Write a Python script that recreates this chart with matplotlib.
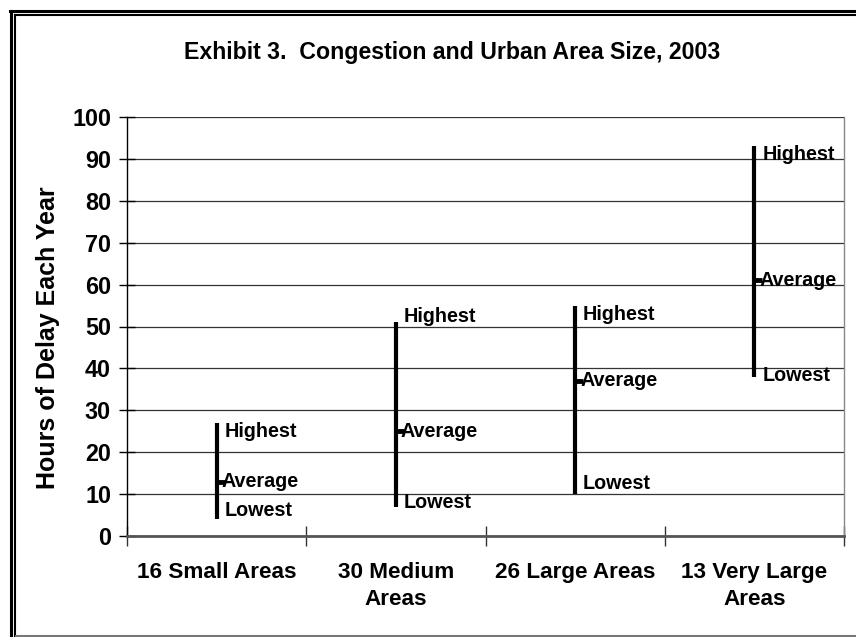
import matplotlib.pyplot as plt

categories = ['16 Small Areas', '30 Medium\nAreas', '26 Large Areas', '13 Very Large\nAreas']
highest = [27, 51, 55, 93]
average = [13, 25, 37, 61]
lowest = [4, 7, 10, 38]

# label offsets in pixels (down is positive)
hi_off = [9, -6, 9, 8]
lo_off = [-9, -4, -11, -1]

plt.rcParams['font.family'] = ['Liberation Sans', 'DejaVu Sans']
plt.rcParams['font.weight'] = 'bold'

fig = plt.figure(figsize=(8.56, 6.37), dpi=100)
ax = fig.add_axes([127 / 856, 101 / 637, 717 / 856, 419 / 637])

px = 0.72  # points per pixel at 100 dpi
x = [i + 0.5 for i in range(len(categories))]

for i in range(len(categories)):
    ax.plot([x[i], x[i]], [lowest[i], highest[i]], color='black', lw=3,
            solid_capstyle='butt', zorder=3)
    ax.plot([x[i], x[i] + 8 / 179], [average[i], average[i]], color='black',
            lw=3.5, solid_capstyle='butt', zorder=3)
    ax.annotate('Highest', xy=(x[i], highest[i]), xytext=(8 * px, -hi_off[i] * px),
                textcoords='offset points', va='center', ha='left',
                fontsize=14.2, fontweight='bold')
    ax.annotate('Average', xy=(x[i], average[i]), xytext=(5 * px, 0),
                textcoords='offset points', va='center', ha='left',
                fontsize=14.2, fontweight='bold')
    ax.annotate('Lowest', xy=(x[i], lowest[i]), xytext=(8 * px, -lo_off[i] * px),
                textcoords='offset points', va='center', ha='left',
                fontsize=14.2, fontweight='bold')

ax.set_xlim(0, 4)
ax.set_ylim(0, 100)
ax.set_yticks(range(0, 101, 10))
ax.set_xticks([0, 1, 2, 3, 4])
ax.set_xticklabels([])
ax.tick_params(axis='y', direction='inout', length=11, width=1, labelsize=16.8, pad=6)
ax.tick_params(axis='x', direction='inout', length=14, width=1, colors='#333333')
for lab in ax.get_yticklabels():
    lab.set_fontweight('bold')
ax.grid(axis='y', color='#333333', lw=0.9)
ax.set_axisbelow(True)

for i, c in enumerate(categories):
    ax.text(x[i], -6.2, c, ha='center', va='top', fontsize=16.2,
            fontweight='bold', linespacing=1.4)

ax.spines['top'].set_visible(False)
ax.spines['left'].set_color('black')
ax.spines['left'].set_linewidth(1)
ax.spines['bottom'].set_color('#555555')
ax.spines['bottom'].set_linewidth(2)
ax.spines['right'].set_color('#888888')
ax.spines['right'].set_linewidth(1)

ax.set_ylabel('Hours of Delay Each Year', fontsize=18, fontweight='bold')
ax.yaxis.set_label_coords(-67 / 717, 0.5 - 11 / 419)

fig.text(452 / 856, 1 - 53 / 637, 'Exhibit 3.  Congestion and Urban Area Size, 2003',
         ha='center', va='center', fontsize=16.7, fontweight='bold')

# double frame on left and top, thin line at the bottom
def fline(xs, ys, **kw):
    fig.add_artist(plt.Line2D([v / 856 for v in xs], [1 - v / 637 for v in ys],
                              transform=fig.transFigure, **kw))

fline([11, 11], [10.5, 637], color='black', lw=2.2)
fline([10, 856], [10.5, 10.5], color='black', lw=2.2)
fline([15.5, 15.5], [15, 637], color='black', lw=1.5)
fline([15, 856], [15, 15], color='black', lw=1.5)
fline([16, 856], [635.5, 635.5], color='#777777', lw=1.5)

fig.savefig('out.png', dpi=100)
